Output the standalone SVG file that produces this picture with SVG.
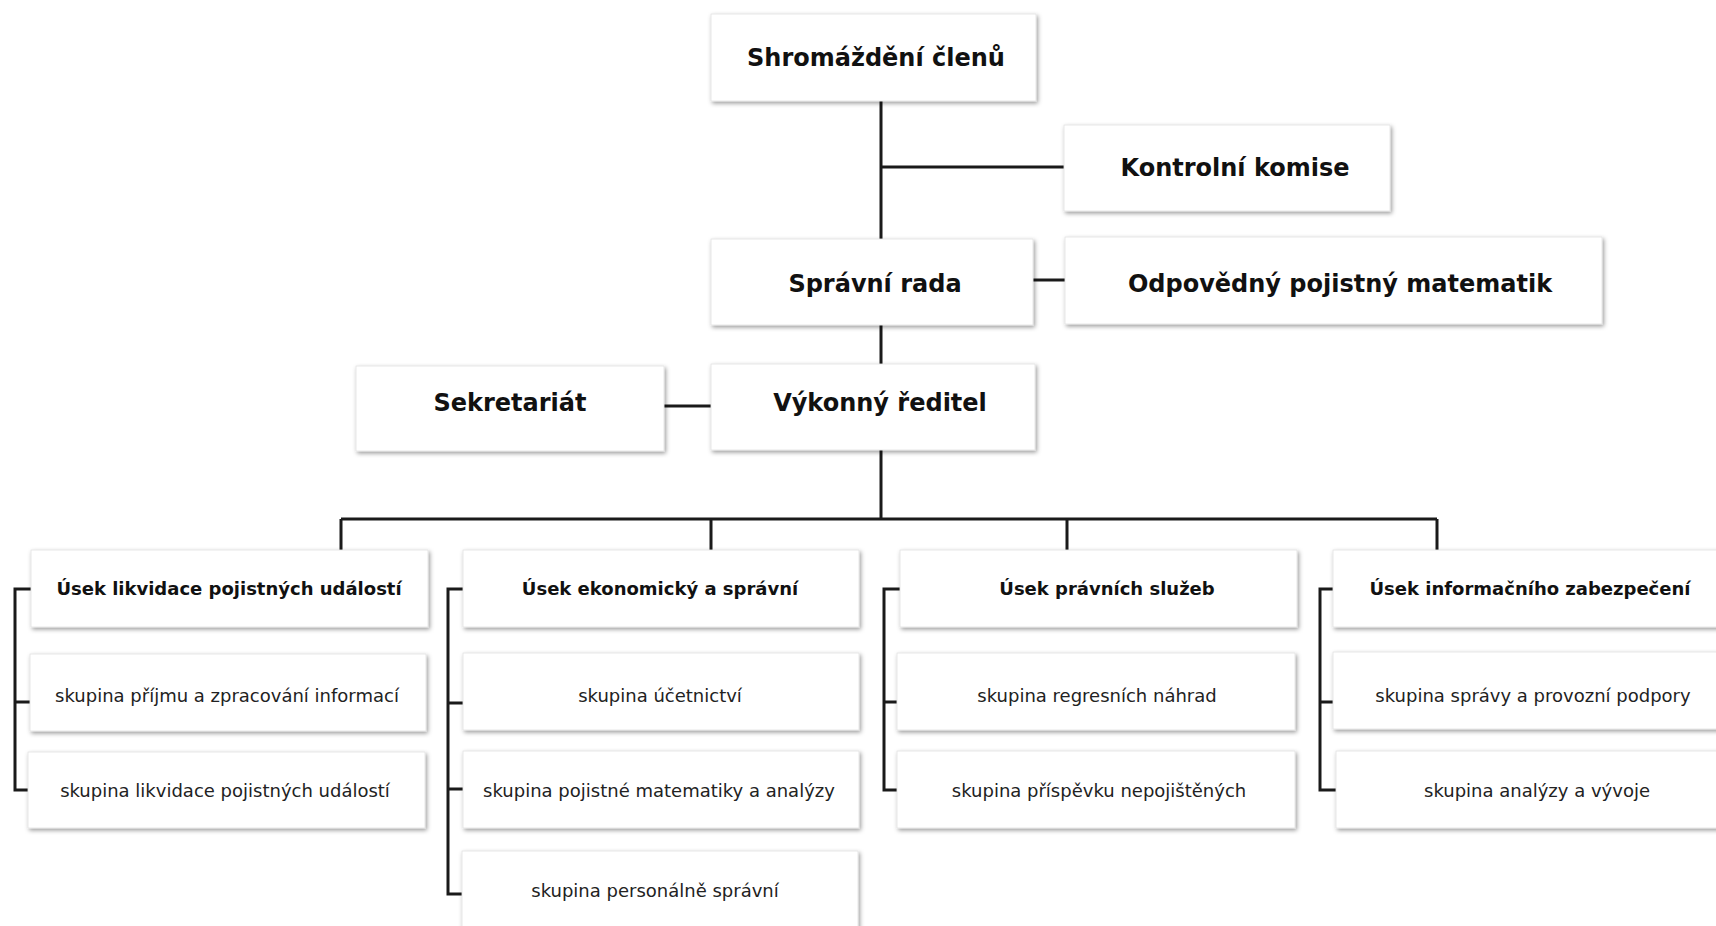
<svg xmlns="http://www.w3.org/2000/svg" width="1716" height="926" viewBox="0 0 1716 926">
<defs>
<filter id="sh" x="-10%" y="-20%" width="120%" height="150%">
<feDropShadow dx="1.5" dy="2" stdDeviation="2" flood-color="#000" flood-opacity="0.4"/>
</filter>
<style>
.box{fill:#fff;stroke:#e2e2e2;stroke-width:0.8;filter:url(#sh)}
.t1{font-family:Verdana,"DejaVu Sans",sans-serif;font-weight:bold;font-size:24px;fill:#111;text-anchor:middle}
.t2{font-family:Verdana,"DejaVu Sans",sans-serif;font-weight:bold;font-size:18px;fill:#111;text-anchor:middle}
.t3{font-family:Verdana,"DejaVu Sans",sans-serif;font-size:18px;fill:#222;text-anchor:middle}
.ln{stroke:#1a1a1a;stroke-width:3;fill:none}
</style>
</defs>
<rect width="1716" height="926" fill="#fff"/>
<g id="connectors">
<path class="ln" d="M881 101V364"/>
<path class="ln" d="M881 167H1064"/>
<path class="ln" d="M1033 280H1065"/>
<path class="ln" d="M664 406H711"/>
<path class="ln" d="M881 450V519"/>
<path class="ln" d="M341 519H1437"/>
<path class="ln" d="M341 519V550M711 519V550M1067 519V550M1437 519V550"/>
<path class="ln" d="M31 589H15V790H29M15 702H30"/>
<path class="ln" d="M463 589H448V894H462M448 703H463M448 789H463"/>
<path class="ln" d="M900 589H884V790H897M884 702H897"/>
<path class="ln" d="M1333 589H1320V790H1336M1320 702H1333"/>
</g>
<g id="n-shromazdeni"><rect class="box" x="711" y="14" width="325" height="87"/><text class="t1" x="876" y="66">Shromáždění členů</text></g>
<g id="n-kontrolni"><rect class="box" x="1064" y="125" width="326" height="86"/><text class="t1" x="1235" y="176">Kontrolní komise</text></g>
<g id="n-spravni"><rect class="box" x="711" y="239" width="322" height="86"/><text class="t1" x="875" y="292">Správní rada</text></g>
<g id="n-odpovedny"><rect class="box" x="1065" y="237" width="537" height="87"/><text class="t1" x="1340" y="292">Odpovědný pojistný matematik</text></g>
<g id="n-sekretariat"><rect class="box" x="356" y="366" width="308" height="85"/><text class="t1" x="510" y="411">Sekretariát</text></g>
<g id="n-vykonny"><rect class="box" x="711" y="364" width="324" height="86"/><text class="t1" x="880" y="411">Výkonný ředitel</text></g>
<g id="n-u1"><rect class="box" x="31" y="550" width="397" height="77"/><text class="t2" x="229" y="595">Úsek likvidace pojistných událostí</text></g>
<g id="n-u1s1"><rect class="box" x="30" y="654" width="396" height="77"/><text class="t3" x="227" y="702">skupina příjmu a zpracování informací</text></g>
<g id="n-u1s2"><rect class="box" x="28" y="752" width="397" height="76"/><text class="t3" x="225" y="797">skupina likvidace pojistných událostí</text></g>
<g id="n-u2"><rect class="box" x="463" y="550" width="396" height="77"/><text class="t2" x="660" y="595">Úsek ekonomický a správní</text></g>
<g id="n-u2s1"><rect class="box" x="463" y="653" width="396" height="77"/><text class="t3" x="660" y="702">skupina účetnictví</text></g>
<g id="n-u2s2"><rect class="box" x="463" y="751" width="396" height="77"/><text class="t3" x="659" y="797">skupina pojistné matematiky a analýzy</text></g>
<g id="n-u2s3"><rect class="box" x="462" y="851" width="396" height="90"/><text class="t3" x="655" y="897">skupina personálně správní</text></g>
<g id="n-u3"><rect class="box" x="900" y="550" width="397" height="77"/><text class="t2" x="1107" y="595">Úsek právních služeb</text></g>
<g id="n-u3s1"><rect class="box" x="897" y="653" width="398" height="77"/><text class="t3" x="1097" y="702">skupina regresních náhrad</text></g>
<g id="n-u3s2"><rect class="box" x="897" y="751" width="398" height="77"/><text class="t3" x="1099" y="797">skupina příspěvku nepojištěných</text></g>
<g id="n-u4"><rect class="box" x="1333" y="550" width="400" height="77"/><text class="t2" x="1530" y="595">Úsek informačního zabezpečení</text></g>
<g id="n-u4s1"><rect class="box" x="1333" y="652" width="400" height="77"/><text class="t3" x="1533" y="702">skupina správy a provozní podpory</text></g>
<g id="n-u4s2"><rect class="box" x="1336" y="751" width="400" height="77"/><text class="t3" x="1537" y="797">skupina analýzy a vývoje</text></g>
</svg>
